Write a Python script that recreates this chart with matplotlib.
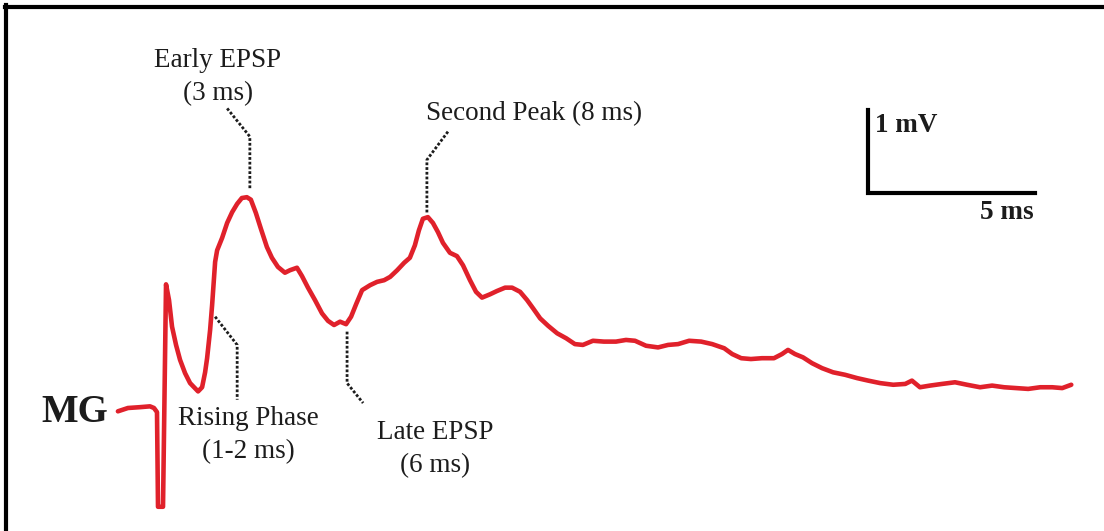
import matplotlib
matplotlib.use("Agg")
import matplotlib.pyplot as plt
from matplotlib.lines import Line2D

# ================================
# Recorded trace (time in ms, amplitude in mV)
# ================================
time_ms = [-1.17, -0.87, -0.51, -0.21, -0.09, 0.00, 0.03, 0.18, 0.27, 0.36,
           0.45, 0.57, 0.69, 0.84, 0.99, 1.23, 1.35, 1.44, 1.50, 1.59,
           1.65, 1.74, 1.80, 1.95, 2.10, 2.25, 2.40, 2.54, 2.69, 2.81,
           2.96, 3.11, 3.29, 3.44, 3.62, 3.83, 3.98, 4.19, 4.34, 4.52,
           4.73, 4.94, 5.12, 5.30, 5.48, 5.66, 5.81, 5.96, 6.14, 6.38,
           6.59, 6.80, 6.98, 7.19, 7.40, 7.57, 7.72, 7.84, 7.96, 8.11,
           8.26, 8.41, 8.56, 8.77, 8.98, 9.16, 9.37, 9.55, 9.73, 9.97,
           10.18, 10.42, 10.63, 10.87, 11.08, 11.26, 11.47, 11.71, 11.98, 12.25,
           12.51, 12.75, 13.05, 13.38, 13.74, 14.04, 14.31, 14.64, 15.00, 15.30,
           15.60, 15.93, 16.29, 16.62, 16.98, 17.22, 17.49, 17.78, 18.11, 18.47,
           18.71, 18.89, 19.10, 19.34, 19.61, 19.91, 20.24, 20.60, 20.96, 21.29,
           21.65, 22.04, 22.40, 22.60, 22.84, 23.14, 23.50, 23.89, 24.25, 24.64,
           25.00, 25.36, 25.72, 26.08, 26.44, 26.80, 27.10, 27.37]
volt_mv = [-0.04, 0.00, 0.01, 0.02, 0.00, -0.05, -1.19, -1.19, 1.49, 1.30,
           0.98, 0.76, 0.58, 0.42, 0.30, 0.20, 0.25, 0.43, 0.60, 0.94,
           1.24, 1.76, 1.90, 2.05, 2.23, 2.36, 2.46, 2.53, 2.54, 2.51,
           2.35, 2.16, 1.94, 1.81, 1.70, 1.63, 1.66, 1.69, 1.59, 1.45,
           1.30, 1.14, 1.05, 1.00, 1.04, 1.01, 1.10, 1.25, 1.42, 1.48,
           1.52, 1.54, 1.58, 1.66, 1.75, 1.81, 1.96, 2.14, 2.28, 2.30,
           2.23, 2.12, 1.99, 1.87, 1.83, 1.72, 1.54, 1.40, 1.33, 1.37,
           1.41, 1.45, 1.45, 1.40, 1.30, 1.20, 1.08, 0.99, 0.90, 0.84,
           0.77, 0.76, 0.81, 0.80, 0.80, 0.82, 0.81, 0.75, 0.73, 0.76,
           0.77, 0.81, 0.80, 0.77, 0.72, 0.65, 0.60, 0.59, 0.60, 0.60,
           0.65, 0.70, 0.65, 0.61, 0.54, 0.48, 0.43, 0.40, 0.36, 0.33,
           0.30, 0.28, 0.29, 0.33, 0.25, 0.27, 0.29, 0.31, 0.28, 0.25,
           0.27, 0.25, 0.24, 0.23, 0.25, 0.25, 0.24, 0.28]

# annotation labels and their leader lines (ms, mV)
labels = ["Early EPSP\n(3 ms)", "Second Peak (8 ms)",
          "Rising Phase\n(1-2 ms)", "Late EPSP\n(6 ms)"]
label_pos = [(1.82, 3.99), (11.29, 3.55), (2.75, -0.33), (8.33, -0.50)]
leader_t = [[2.10, 2.78, 2.78], [8.71, 8.08, 8.08],
            [1.74, 2.40, 2.40], [5.69, 5.69, 6.17]]
leader_v = [[3.61, 3.27, 2.63], [3.33, 2.99, 2.35],
            [1.10, 0.76, 0.10], [0.92, 0.30, 0.06]]

# scale bar
bar_t0, bar_v0 = 21.29, 2.59
bar_ms, bar_mv = 5, 1

# ================================
# Plot
# ================================
fig = plt.figure(figsize=(11.04, 5.31), dpi=100)
ax = fig.add_axes([0, 0, 1, 1])
ax.set_xlim(-4.70, 28.35)
ax.set_ylim(-1.482, 4.916)
ax.axis("off")

serif = "Liberation Serif"
ink = "#1c1c1c"

ax.plot(time_ms, volt_mv, color="#e0212b", lw=3.3, solid_joinstyle="round",
        solid_capstyle="round", zorder=3)

for text, (tx, ty), lt, lv in zip(labels, label_pos, leader_t, leader_v):
    ax.text(tx, ty, text, ha="center", va="center", fontsize=19.5,
            family=serif, color=ink, linespacing=1.42)
    ax.plot(lt, lv, color=ink, lw=2.0, linestyle=(0, (1, 0.7)))

ax.text(-2.46, -0.05, "MG", ha="center", va="center", fontsize=28,
        fontweight="bold", family=serif, color=ink)

# scale bar
ax.plot([bar_t0, bar_t0, bar_t0 + bar_ms],
        [bar_v0 + bar_mv, bar_v0, bar_v0], color="black", lw=3,
        solid_joinstyle="miter")
ax.text(bar_t0 + 0.21, bar_v0 + 0.81, "1 mV", ha="left", va="center",
        fontsize=19.5, fontweight="bold", family=serif, color=ink)
ax.text(bar_t0 + bar_ms - 0.06, bar_v0 - 0.24, "5 ms", ha="right", va="center",
        fontsize=19.5, fontweight="bold", family=serif, color=ink)

# frame on top and left edges
fig.add_artist(Line2D([0.0045, 1], [0.987, 0.987], color="black", lw=3,
                      transform=fig.transFigure))
fig.add_artist(Line2D([0.0055, 0.0055], [0, 0.99], color="black", lw=3,
                      transform=fig.transFigure))

fig.savefig("out.png", dpi=100)
